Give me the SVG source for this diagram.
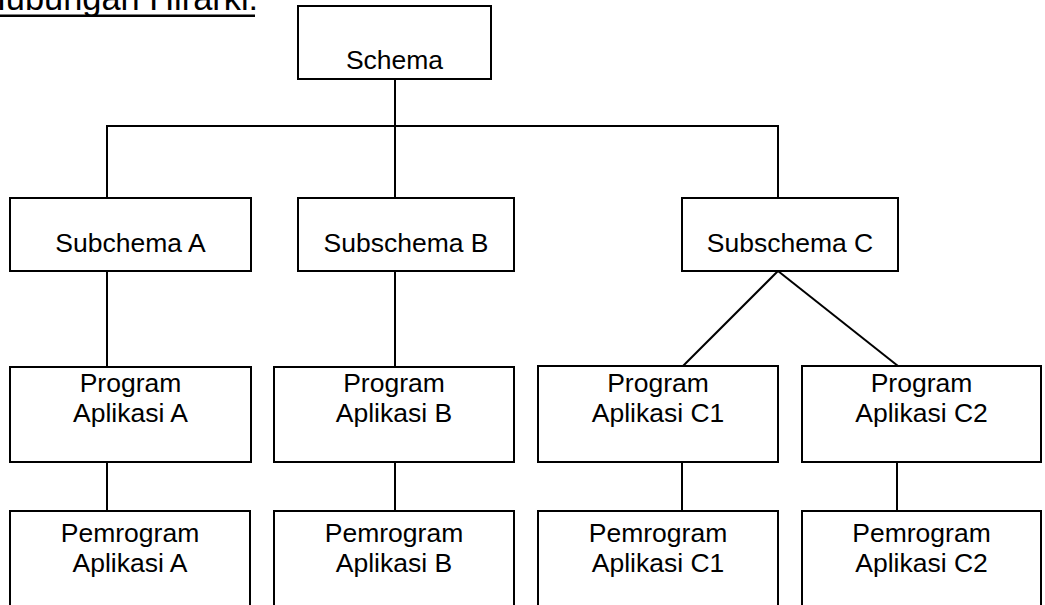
<svg xmlns="http://www.w3.org/2000/svg" width="1045" height="605" viewBox="0 0 1045 605">
<style>
.box{fill:#fff;stroke:#000;stroke-width:2}
.lbl{font-family:"Liberation Sans",Arial,sans-serif;font-size:26.5px;fill:#000;text-anchor:middle}
.ttl{font-family:"Liberation Sans",Arial,sans-serif;font-size:34.4px;fill:#000}
.con{stroke:#000;stroke-width:2;fill:none}
</style>
<rect width="1045" height="605" fill="#fff"/>
<g id="title"><text class="ttl" x="-19" y="10">Hubungan Hirarki:</text><rect x="0" y="14.5" width="255" height="2.5" fill="#000"/></g>
<g id="connectors">
<line class="con" x1="395" y1="79" x2="395" y2="126"/>
<line class="con" x1="106" y1="126" x2="779" y2="126"/>
<line class="con" x1="107" y1="126" x2="107" y2="198"/>
<line class="con" x1="395" y1="126" x2="395" y2="198"/>
<line class="con" x1="778" y1="126" x2="778" y2="198"/>
<line class="con" x1="107" y1="271" x2="107" y2="367"/>
<line class="con" x1="395" y1="271" x2="395" y2="367"/>
<line class="con" x1="778" y1="271" x2="683" y2="366"/>
<line class="con" x1="778" y1="271" x2="898" y2="366"/>
<line class="con" x1="107" y1="462" x2="107" y2="511"/>
<line class="con" x1="395" y1="462" x2="395" y2="511"/>
<line class="con" x1="682" y1="462" x2="682" y2="511"/>
<line class="con" x1="897" y1="462" x2="897" y2="511"/>
</g>
<g id="schema"><rect class="box" x="298" y="6" width="193" height="73"/><text class="lbl" x="394.5" y="69">Schema</text></g>
<g id="subA"><rect class="box" x="10" y="198" width="241" height="73"/><text class="lbl" x="130.5" y="252">Subchema A</text></g>
<g id="subB"><rect class="box" x="298" y="198" width="216" height="73"/><text class="lbl" x="406" y="252">Subschema B</text></g>
<g id="subC"><rect class="box" x="682" y="198" width="216" height="73"/><text class="lbl" x="790" y="252">Subschema C</text></g>
<g id="progA"><rect class="box" x="10" y="367" width="241" height="95"/><text class="lbl" x="130.5" y="392">Program</text><text class="lbl" x="130.5" y="422">Aplikasi A</text></g>
<g id="progB"><rect class="box" x="274" y="367" width="240" height="95"/><text class="lbl" x="394" y="392">Program</text><text class="lbl" x="394" y="422">Aplikasi B</text></g>
<g id="progC1"><rect class="box" x="538" y="366" width="240" height="96"/><text class="lbl" x="658" y="392">Program</text><text class="lbl" x="658" y="422">Aplikasi C1</text></g>
<g id="progC2"><rect class="box" x="802" y="366" width="239" height="96"/><text class="lbl" x="921.5" y="392">Program</text><text class="lbl" x="921.5" y="422">Aplikasi C2</text></g>
<g id="pemA"><rect class="box" x="10" y="511" width="240" height="110"/><text class="lbl" x="130" y="542">Pemrogram</text><text class="lbl" x="130" y="572">Aplikasi A</text></g>
<g id="pemB"><rect class="box" x="274" y="511" width="240" height="110"/><text class="lbl" x="394" y="542">Pemrogram</text><text class="lbl" x="394" y="572">Aplikasi B</text></g>
<g id="pemC1"><rect class="box" x="538" y="511" width="240" height="110"/><text class="lbl" x="658" y="542">Pemrogram</text><text class="lbl" x="658" y="572">Aplikasi C1</text></g>
<g id="pemC2"><rect class="box" x="802" y="511" width="239" height="110"/><text class="lbl" x="921.5" y="542">Pemrogram</text><text class="lbl" x="921.5" y="572">Aplikasi C2</text></g>
</svg>
